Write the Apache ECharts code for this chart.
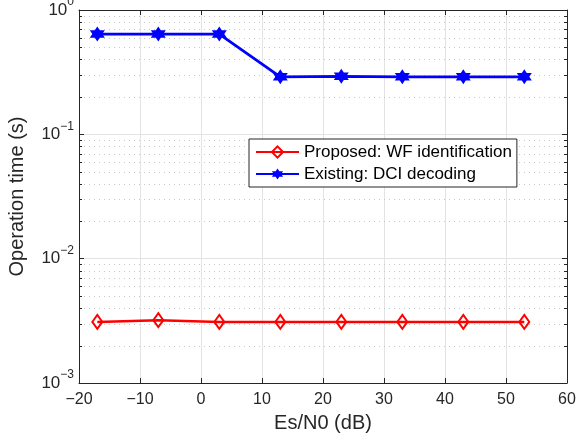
<!DOCTYPE html>
<html>
<head>
<meta charset="utf-8">
<script src="https://cdn.jsdelivr.net/npm/echarts@6/dist/echarts.min.js"></script>
<style>
  html, body { margin: 0; padding: 0; background: #fff; }
  #chart { width: 580px; height: 446px; }
</style>
</head>
<body>
<div id="chart"></div>
<script>
// 数据
const esN0 = [-17, -7, 3, 13, 23, 33, 43, 53];
const proposedTime = [0.0031, 0.0032, 0.0031, 0.0031, 0.0031, 0.0031, 0.0031, 0.0031];
const existingTime = [0.64, 0.64, 0.64, 0.29, 0.293, 0.29, 0.29, 0.29];
const seriesNames = ['Proposed: WF identification', 'Existing: DCI decoding'];

// 次刻度（2..9 x 10^k）
const minorVals = [];
[0.001, 0.01, 0.1].forEach(d => {
    for (let m = 2; m <= 9; m++) minorVals.push(+(m * d).toPrecision(3));
});

const axisColor = '#262626';
const font = 'Liberation Sans, Arial, sans-serif';

// 六角星
function hexagram() {
    const pts = [];
    for (let i = 0; i < 12; i++) {
        const a = -Math.PI / 2 + i * Math.PI / 6;
        const r = i % 2 === 0 ? 10 : 5.77;
        pts.push((10 + r * Math.cos(a)).toFixed(2) + ' ' + (10 + r * Math.sin(a)).toFixed(2));
    }
    return 'path://M' + pts.join(' L') + ' Z';
}
const diamondPath = 'path://M10 0 L18 10 L10 20 L2 10 Z';

function supLabel(v) {
    const e = Math.round(Math.log10(v));
    return '{b|10}{s|' + String(e).replace('-', '\u2212') + '}';
}

const chart = echarts.init(document.getElementById('chart'));

const option = {
    animation: false,
    textStyle: { fontFamily: font },
    grid: { left: 79, right: 13, top: 10, bottom: 63, containLabel: false, outerBoundsMode: 'none' },
    legend: {
        data: seriesNames,
        orient: 'vertical',
        left: 249,
        top: 139,
        padding: [3, 5, 3, 6],
        itemGap: 2,
        itemWidth: 43,
        itemHeight: 14,
        backgroundColor: '#fff',
        borderColor: axisColor,
        borderWidth: 1,
        borderRadius: 0,
        textStyle: { fontSize: 17, lineHeight: 20, color: '#000', fontFamily: font }
    },
    xAxis: [{
        type: 'value',
        min: -20, max: 60, interval: 10,
        name: 'Es/N0 (dB)',
        nameLocation: 'middle',
        nameGap: 30,
        nameTextStyle: { fontSize: 20, color: axisColor },
        axisLine: { onZero: false, lineStyle: { color: axisColor } },
        axisTick: { inside: true, length: 5, lineStyle: { color: axisColor } },
        axisLabel: {
            fontSize: 16, color: axisColor, margin: 9,
            formatter: v => String(v).replace('-', '\u2212')
        },
        splitLine: { show: true, lineStyle: { color: '#e3e3e3' } }
    }, {
        type: 'value', position: 'top',
        min: -20, max: 60, interval: 10,
        axisLine: { show: true, onZero: false, lineStyle: { color: axisColor } },
        axisTick: { inside: true, length: 5, lineStyle: { color: axisColor } },
        axisLabel: { show: false },
        splitLine: { show: false }
    }],
    yAxis: [{
        type: 'log',
        logBase: 10,
        min: 0.001, max: 1,
        name: 'Operation time (s)',
        nameLocation: 'middle',
        nameGap: 52,
        nameTextStyle: { fontSize: 20, color: axisColor },
        axisLine: { show: true, onZero: false, lineStyle: { color: axisColor } },
        axisTick: { inside: true, length: 5, lineStyle: { color: axisColor } },
        axisLabel: {
            margin: 5,
            formatter: supLabel,
            rich: {
                b: { fontSize: 17, color: axisColor, fontFamily: font },
                s: { fontSize: 12, color: axisColor, fontFamily: font, padding: [0, 0, 16, 0] }
            }
        },
        splitLine: { show: true, lineStyle: { color: '#e3e3e3' } }
    }, {
        type: 'log', position: 'right',
        logBase: 10,
        min: 0.001, max: 1,
        axisLine: { show: true, onZero: false, lineStyle: { color: axisColor } },
        axisTick: { inside: true, length: 5, lineStyle: { color: axisColor } },
        axisLabel: { show: false },
        splitLine: { show: false }
    }],
    series: [{
        // 次网格线和次刻度
        type: 'custom',
        silent: true,
        z: 1,
        data: minorVals.map(v => [-20, v]),
        renderItem: function (params, api) {
            const cs = params.coordSys;
            const y = Math.round(api.coord([-20, api.value(1)])[1]) + 0.5;
            return {
                type: 'group',
                children: [{
                    type: 'line',
                    shape: { x1: cs.x, y1: y, x2: cs.x + cs.width, y2: y },
                    style: { stroke: '#c8c8c8', lineWidth: 1, lineDash: [1, 4] }
                }, {
                    type: 'line',
                    shape: { x1: cs.x, y1: y, x2: cs.x + 3, y2: y },
                    style: { stroke: axisColor, lineWidth: 1 }
                }, {
                    type: 'line',
                    shape: { x1: cs.x + cs.width - 3, y1: y, x2: cs.x + cs.width, y2: y },
                    style: { stroke: axisColor, lineWidth: 1 }
                }]
            };
        }
    }, {
        name: seriesNames[0],
        type: 'line',
        z: 3,
        data: esN0.map((x, i) => [x, proposedTime[i]]),
        symbol: diamondPath,
        symbolSize: [10, 14],
        lineStyle: { color: '#ff0000', width: 2.5 },
        itemStyle: { color: 'rgba(255,255,255,0)', borderColor: '#ff0000', borderWidth: 2 }
    }, {
        name: seriesNames[1],
        type: 'line',
        z: 3,
        data: esN0.map((x, i) => [x, existingTime[i]]),
        symbol: hexagram(),
        symbolSize: 15,
        lineStyle: { color: '#0000ff', width: 2.8 },
        itemStyle: { color: '#0000ff' }
    }]
};

chart.setOption(option);
</script>
</body>
</html>
